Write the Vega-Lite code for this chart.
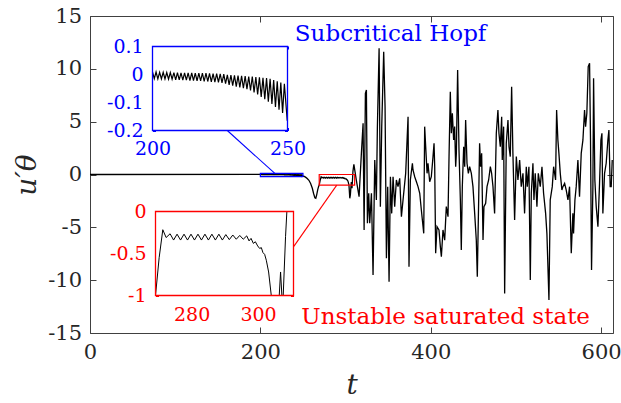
{
  "$schema": "https://vega.github.io/schema/vega-lite/v6.json",
  "width": 523,
  "height": 317,
  "autosize": {"type": "none"},
  "padding": {"left": 90, "top": 16, "right": 8, "bottom": 70},
  "background": "white",
  "config": {
    "font": "DejaVu Serif",
    "view": {"stroke": null},
    "axis": {"grid": false, "labelFont": "DejaVu Serif", "titleFont": "DejaVu Serif", "labelFlush": false, "labelOverlap": false}
  },
  "datasets": {
    "series": [
      {"t": 0, "u": 0},
      {"t": 200.00, "u": 0.009}, {"t": 200.66, "u": -0.015}, {"t": 201.32, "u": 0.009}, {"t": 201.98, "u": -0.016},
      {"t": 202.64, "u": 0.008}, {"t": 203.30, "u": -0.016}, {"t": 203.96, "u": 0.008}, {"t": 204.62, "u": -0.016},
      {"t": 205.28, "u": 0.007}, {"t": 205.94, "u": -0.017}, {"t": 206.60, "u": 0.007}, {"t": 207.26, "u": -0.017},
      {"t": 207.92, "u": 0.007}, {"t": 208.58, "u": -0.019}, {"t": 209.24, "u": 0.007}, {"t": 209.90, "u": -0.019},
      {"t": 210.56, "u": 0.006}, {"t": 211.22, "u": -0.020}, {"t": 211.88, "u": 0.006}, {"t": 212.54, "u": -0.020},
      {"t": 213.20, "u": 0.006}, {"t": 213.86, "u": -0.022}, {"t": 214.52, "u": 0.006}, {"t": 215.18, "u": -0.022},
      {"t": 215.84, "u": 0.005}, {"t": 216.50, "u": -0.023}, {"t": 217.16, "u": 0.005}, {"t": 217.82, "u": -0.023},
      {"t": 218.48, "u": 0.005}, {"t": 219.14, "u": -0.025}, {"t": 219.80, "u": 0.005}, {"t": 220.46, "u": -0.025},
      {"t": 221.12, "u": 0.004}, {"t": 221.78, "u": -0.026}, {"t": 222.44, "u": 0.003}, {"t": 223.10, "u": -0.027},
      {"t": 223.76, "u": 0.003}, {"t": 224.42, "u": -0.028}, {"t": 225.08, "u": 0.002}, {"t": 225.74, "u": -0.030},
      {"t": 226.40, "u": 0.001}, {"t": 227.06, "u": -0.033}, {"t": 227.72, "u": -0.001}, {"t": 228.38, "u": -0.037},
      {"t": 229.04, "u": -0.002}, {"t": 229.70, "u": -0.040}, {"t": 230.36, "u": -0.003}, {"t": 231.02, "u": -0.043},
      {"t": 231.68, "u": -0.004}, {"t": 232.34, "u": -0.046}, {"t": 233.00, "u": -0.005}, {"t": 233.66, "u": -0.049},
      {"t": 234.32, "u": -0.006}, {"t": 234.98, "u": -0.052}, {"t": 235.64, "u": -0.007}, {"t": 236.30, "u": -0.057},
      {"t": 236.96, "u": -0.007}, {"t": 237.62, "u": -0.064}, {"t": 238.28, "u": -0.009}, {"t": 238.94, "u": -0.071},
      {"t": 239.60, "u": -0.010}, {"t": 240.26, "u": -0.080}, {"t": 240.92, "u": -0.012}, {"t": 241.58, "u": -0.088},
      {"t": 242.24, "u": -0.013}, {"t": 242.90, "u": -0.097}, {"t": 243.56, "u": -0.015}, {"t": 244.22, "u": -0.105},
      {"t": 244.88, "u": -0.020}, {"t": 245.54, "u": -0.116}, {"t": 246.20, "u": -0.024}, {"t": 246.86, "u": -0.126},
      {"t": 247.52, "u": -0.029}, {"t": 248.18, "u": -0.137}, {"t": 248.84, "u": -0.033}, {"t": 249.90, "u": -0.165},
      {"t": 251.0, "u": -0.15}, {"t": 253.0, "u": -0.25}, {"t": 255.0, "u": -0.38}, {"t": 257.0, "u": -0.55},
      {"t": 259.0, "u": -0.85}, {"t": 261.0, "u": -1.3}, {"t": 262.5, "u": -1.8}, {"t": 264.0, "u": -2.2},
      {"t": 265.1, "u": -2.25}, {"t": 266.2, "u": -1.9}, {"t": 267.3, "u": -1.45}, {"t": 268.3, "u": -1.15},
      {"t": 269.1, "u": -1.0}, {"t": 270.2, "u": -0.55}, {"t": 271.3, "u": -0.217}, {"t": 272.3, "u": -0.31},
      {"t": 273.5, "u": -0.265}, {"t": 274.55, "u": -0.34}, {"t": 275.6, "u": -0.27}, {"t": 276.65, "u": -0.34},
      {"t": 277.7, "u": -0.27}, {"t": 278.75, "u": -0.34}, {"t": 279.8, "u": -0.27}, {"t": 280.85, "u": -0.34},
      {"t": 281.9, "u": -0.27}, {"t": 282.95, "u": -0.34}, {"t": 284.0, "u": -0.27}, {"t": 285.05, "u": -0.34},
      {"t": 286.1, "u": -0.27}, {"t": 287.15, "u": -0.34}, {"t": 288.2, "u": -0.27}, {"t": 289.25, "u": -0.34},
      {"t": 290.3, "u": -0.275}, {"t": 291.35, "u": -0.335}, {"t": 292.4, "u": -0.28}, {"t": 293.45, "u": -0.33},
      {"t": 294.5, "u": -0.285}, {"t": 295.55, "u": -0.33}, {"t": 296.6, "u": -0.29}, {"t": 297.3, "u": -0.35},
      {"t": 297.9, "u": -0.32}, {"t": 298.6, "u": -0.38}, {"t": 299.2, "u": -0.36}, {"t": 299.9, "u": -0.41},
      {"t": 300.5, "u": -0.44}, {"t": 301.0, "u": -0.43}, {"t": 301.5, "u": -0.49}, {"t": 302.0, "u": -0.51},
      {"t": 302.5, "u": -0.58}, {"t": 303.2, "u": -0.72}, {"t": 304.0, "u": -1.0}, {"t": 304.5, "u": -1.6},
      {"t": 305.0, "u": -2.25}, {"t": 305.7, "u": -1.9}, {"t": 306.4, "u": -1.1}, {"t": 306.8, "u": -0.72},
      {"t": 307.2, "u": -1.1}, {"t": 307.6, "u": -1.3}, {"t": 308.3, "u": -0.3}, {"t": 308.7, "u": 0.3},
      {"t": 309.8, "u": 0.95}, {"t": 312.8, "u": -0.6},
      {"t": 315.9, "u": -2.1}, {"t": 318.6, "u": 2.0}, {"t": 320.6, "u": 4.84}, {"t": 321.8, "u": -5.25},
      {"t": 323.3, "u": 7.68}, {"t": 324.5, "u": 8.0}, {"t": 325.7, "u": -4.62}, {"t": 327.2, "u": -1.78},
      {"t": 328.4, "u": -4.62}, {"t": 330.4, "u": -1.78}, {"t": 332.3, "u": -9.51}, {"t": 334.3, "u": 1.37},
      {"t": 336.2, "u": -2.41}, {"t": 337.4, "u": 4.53}, {"t": 339.4, "u": 11.94}, {"t": 340.9, "u": -3.04},
      {"t": 342.5, "u": 4.53}, {"t": 344.8, "u": 11.62}, {"t": 346.4, "u": 6.42}, {"t": 348.0, "u": -7.93},
      {"t": 349.5, "u": -1.15}, {"t": 351.1, "u": -10.14}, {"t": 352.7, "u": -0.21}, {"t": 354.2, "u": -3.68},
      {"t": 355.8, "u": -0.21}, {"t": 357.7, "u": -3.04}, {"t": 359.7, "u": -0.52}, {"t": 361.6, "u": -1.15},
      {"t": 363.6, "u": -0.36}, {"t": 365.6, "u": -3.99}, {"t": 367.5, "u": -2.41}, {"t": 370.6, "u": 0.11},
      {"t": 373.4, "u": 5.47}, {"t": 374.5, "u": -8.72}, {"t": 376.1, "u": -0.52}, {"t": 378.5, "u": 1.06},
      {"t": 379.2, "u": 0.43}, {"t": 381.2, "u": -0.21}, {"t": 383.2, "u": -0.68}, {"t": 385.1, "u": -1.15},
      {"t": 387.1, "u": -1.78}, {"t": 389.0, "u": -3.36}, {"t": 391.0, "u": -4.94}, {"t": 391.8, "u": -5.57},
      {"t": 392.9, "u": 4.53}, {"t": 394.1, "u": 2.63}, {"t": 395.7, "u": 0.11}, {"t": 396.8, "u": 1.06},
      {"t": 398.8, "u": -0.68}, {"t": 400.7, "u": -0.21}, {"t": 402.7, "u": 1.69}, {"t": 403.9, "u": 2.95},
      {"t": 404.7, "u": 0.74}, {"t": 405.8, "u": -7.46}, {"t": 407.4, "u": -4.94}, {"t": 409.7, "u": -5.25},
      {"t": 411.3, "u": -6.83}, {"t": 412.5, "u": -7.78}, {"t": 414.4, "u": -5.25}, {"t": 416.4, "u": -6.21},
      {"t": 418.3, "u": -3.04}, {"t": 420.3, "u": -3.99}, {"t": 421.5, "u": 1.69}, {"t": 423.0, "u": 7.84},
      {"t": 424.2, "u": 3.90}, {"t": 425.4, "u": 5.79}, {"t": 426.9, "u": 3.27}, {"t": 428.1, "u": 4.53},
      {"t": 429.3, "u": 0.74}, {"t": 430.1, "u": 2.0}, {"t": 431.6, "u": 9.89}, {"t": 433.2, "u": 2.32},
      {"t": 434.8, "u": -2.41}, {"t": 435.9, "u": -7.15}, {"t": 437.1, "u": -1.15}, {"t": 438.7, "u": 2.63},
      {"t": 439.9, "u": 0.74}, {"t": 441.0, "u": 5.16}, {"t": 442.6, "u": 1.06}, {"t": 444.2, "u": 0.11},
      {"t": 445.7, "u": 0.74}, {"t": 447.7, "u": 0.11}, {"t": 449.6, "u": -1.15}, {"t": 451.6, "u": -3.68},
      {"t": 453.5, "u": -6.20}, {"t": 454.7, "u": -9.68}, {"t": 456.3, "u": -2.41}, {"t": 457.4, "u": 2.95},
      {"t": 458.6, "u": 0.74}, {"t": 459.8, "u": 2.0}, {"t": 461.4, "u": -6.20}, {"t": 462.5, "u": -3.04},
      {"t": 464.5, "u": -2.73}, {"t": 466.1, "u": -1.15}, {"t": 468.0, "u": -0.52}, {"t": 470.0, "u": 0.74},
      {"t": 471.5, "u": 0.11}, {"t": 473.1, "u": -1.15}, {"t": 475.0, "u": -3.68}, {"t": 477.0, "u": 3.90},
      {"t": 478.9, "u": 6.10}, {"t": 480.1, "u": 3.90}, {"t": 481.7, "u": 2.63}, {"t": 483.3, "u": 5.47},
      {"t": 484.0, "u": 1.37}, {"t": 485.6, "u": 4.53}, {"t": 486.8, "u": -11.25}, {"t": 488.7, "u": 2.95},
      {"t": 490.7, "u": 5.16}, {"t": 491.9, "u": 2.63}, {"t": 493.4, "u": 1.69}, {"t": 495.0, "u": 8.31},
      {"t": 496.5, "u": 2.0}, {"t": 498.5, "u": -4.31}, {"t": 500.5, "u": 1.69}, {"t": 502.4, "u": -0.52},
      {"t": 504.4, "u": 1.37}, {"t": 506.3, "u": -1.15}, {"t": 508.3, "u": 0.11}, {"t": 510.2, "u": -3.68},
      {"t": 512.2, "u": 0.74}, {"t": 513.4, "u": -1.15}, {"t": 515.3, "u": 0.74}, {"t": 516.9, "u": -9.99},
      {"t": 518.1, "u": -1.78}, {"t": 520.0, "u": 1.06}, {"t": 521.2, "u": -2.41}, {"t": 522.7, "u": 0.11},
      {"t": 524.7, "u": -3.04}, {"t": 526.3, "u": 0.11}, {"t": 528.6, "u": -1.15}, {"t": 530.6, "u": 0.74},
      {"t": 532.5, "u": -1.78}, {"t": 534.9, "u": -3.68}, {"t": 536.4, "u": -5.57}, {"t": 538.8, "u": -11.88},
      {"t": 540.3, "u": -2.41}, {"t": 542.7, "u": -1.15}, {"t": 544.3, "u": 0.74}, {"t": 546.6, "u": -0.52},
      {"t": 547.8, "u": 6.10}, {"t": 549.3, "u": 3.27}, {"t": 550.5, "u": 2.0}, {"t": 552.1, "u": 0.11},
      {"t": 554.0, "u": -1.47}, {"t": 555.2, "u": -1.15}, {"t": 557.2, "u": -0.84}, {"t": 559.1, "u": -1.47},
      {"t": 561.1, "u": -2.41}, {"t": 563.0, "u": -1.15}, {"t": 565.0, "u": -7.46}, {"t": 566.9, "u": -3.68},
      {"t": 567.7, "u": -5.57}, {"t": 569.3, "u": -2.41}, {"t": 570.8, "u": -1.15}, {"t": 572.8, "u": 1.37},
      {"t": 574.7, "u": -2.10}, {"t": 576.7, "u": 2.0}, {"t": 578.7, "u": 3.27}, {"t": 580.6, "u": 6.10},
      {"t": 581.8, "u": 4.53}, {"t": 583.3, "u": 5.79}, {"t": 584.9, "u": 10.21}, {"t": 586.5, "u": 10.52},
      {"t": 587.6, "u": 3.27}, {"t": 588.8, "u": -9.04}, {"t": 590.4, "u": -1.15}, {"t": 591.2, "u": 9.10},
      {"t": 592.7, "u": -0.52}, {"t": 594.3, "u": -3.04}, {"t": 596.3, "u": -4.94}, {"t": 598.2, "u": -0.84},
      {"t": 599.8, "u": 3.27}, {"t": 601.0, "u": 3.90}, {"t": 602.1, "u": -3.68}, {"t": 604.1, "u": 0.11},
      {"t": 606.0, "u": 1.06}, {"t": 608.0, "u": 3.27}, {"t": 609.2, "u": 4.21}, {"t": 610.7, "u": -1.15},
      {"t": 611.9, "u": -1.15}, {"t": 613.1, "u": 1.37}
    ],
    "boxes": [
      {"inset": "hopf", "t0": 200, "t1": 250, "u0": -0.2, "u1": 0.1},
      {"inset": "sat", "t0": 269.1, "t1": 310.7, "u0": -1, "u1": 0}
    ],
    "links": [
      {"inset": "hopf", "t0": 161.5, "u0": 4.14, "t1": 217, "u1": 0.1},
      {"inset": "sat", "t0": 239.3, "u0": -6.8, "t1": 289.7, "u1": -1}
    ],
    "notes": [
      {"inset": "hopf", "label": "Subcritical Hopf", "t": 240.5, "u": 12.6},
      {"inset": "sat", "label": "Unstable saturated state", "t": 248, "u": -14.14}
    ]
  },
  "layer": [
    {
      "layer": [
        {
          "data": {"name": "series"},
          "mark": {"type": "line", "color": "black", "strokeWidth": 1.3},
          "encoding": {
            "x": {"field": "t", "type": "quantitative", "scale": {"domain": [0, 614], "nice": false, "zero": false},
              "axis": {"orient": "bottom", "values": [0, 200, 400, 600], "tickSize": -6, "labelPadding": 14, "labelFontSize": 21, "labelColor": "#262626", "domainColor": "#404040", "tickColor": "#404040", "title": "t", "titleFontSize": 28, "titleFontStyle": "italic", "titleFontWeight": "normal", "titleColor": "#262626", "titlePadding": 9}},
            "y": {"field": "u", "type": "quantitative", "scale": {"domain": [-15, 15], "nice": false, "zero": false},
              "axis": {"orient": "left", "values": [-15, -10, -5, 0, 5, 10, 15], "tickSize": -6, "labelPadding": 14.5, "labelFontSize": 21, "labelColor": "#262626", "domainColor": "#404040", "tickColor": "#404040", "labelExpr": "replace(datum.label, '−', '-')", "title": "u′θ", "titleFontSize": 28, "titleFontStyle": "italic", "titleFontWeight": "normal", "titleColor": "#262626", "titlePadding": 6}}
          }
        },
        {
          "data": {"name": "boxes"},
          "transform": [{"filter": "datum.inset == 'hopf'"}],
          "mark": {"type": "rect", "filled": false, "stroke": "#0000FF", "strokeWidth": 1.2},
          "encoding": {
            "x": {"field": "t0", "type": "quantitative", "scale": {"domain": [0, 614], "nice": false, "zero": false},
              "axis": {"orient": "top", "values": [0, 200, 400, 600], "tickSize": -6, "labels": false, "domainColor": "#404040", "tickColor": "#404040", "title": null}},
            "x2": {"field": "t1"},
            "y": {"field": "u0", "type": "quantitative", "scale": {"domain": [-15, 15], "nice": false, "zero": false},
              "axis": {"orient": "right", "values": [-15, -10, -5, 0, 5, 10, 15], "tickSize": -6, "labels": false, "domainColor": "#404040", "tickColor": "#404040", "title": null}},
            "y2": {"field": "u1"}
          }
        },
        {
          "data": {"name": "boxes"},
          "transform": [{"filter": "datum.inset == 'sat'"}],
          "mark": {"type": "rect", "filled": false, "stroke": "#FF0000", "strokeWidth": 1.2},
          "encoding": {
            "x": {"field": "t0", "type": "quantitative", "scale": {"domain": [0, 614], "nice": false, "zero": false}, "axis": null},
            "x2": {"field": "t1"},
            "y": {"field": "u0", "type": "quantitative", "scale": {"domain": [-15, 15], "nice": false, "zero": false}, "axis": null},
            "y2": {"field": "u1"}
          }
        },
        {
          "data": {"name": "links"},
          "transform": [{"filter": "datum.inset == 'hopf'"}],
          "mark": {"type": "rule", "color": "#0000FF", "strokeWidth": 1.1},
          "encoding": {
            "x": {"field": "t0", "type": "quantitative", "scale": {"domain": [0, 614], "nice": false, "zero": false}, "axis": null},
            "x2": {"field": "t1"},
            "y": {"field": "u0", "type": "quantitative", "scale": {"domain": [-15, 15], "nice": false, "zero": false}, "axis": null},
            "y2": {"field": "u1"}
          }
        },
        {
          "data": {"name": "links"},
          "transform": [{"filter": "datum.inset == 'sat'"}],
          "mark": {"type": "rule", "color": "#FF0000", "strokeWidth": 1.1},
          "encoding": {
            "x": {"field": "t0", "type": "quantitative", "scale": {"domain": [0, 614], "nice": false, "zero": false}, "axis": null},
            "x2": {"field": "t1"},
            "y": {"field": "u0", "type": "quantitative", "scale": {"domain": [-15, 15], "nice": false, "zero": false}, "axis": null},
            "y2": {"field": "u1"}
          }
        },
        {
          "data": {"name": "notes"},
          "transform": [{"filter": "datum.inset == 'hopf'"}],
          "mark": {"type": "text", "color": "#0000FF", "fontSize": 23, "align": "left", "baseline": "alphabetic", "font": "DejaVu Serif"},
          "encoding": {
            "x": {"field": "t", "type": "quantitative", "scale": {"domain": [0, 614], "nice": false, "zero": false}, "axis": null},
            "y": {"field": "u", "type": "quantitative", "scale": {"domain": [-15, 15], "nice": false, "zero": false}, "axis": null},
            "text": {"field": "label"}
          }
        },
        {
          "data": {"name": "notes"},
          "transform": [{"filter": "datum.inset == 'sat'"}],
          "mark": {"type": "text", "color": "#FF0000", "fontSize": 23, "align": "left", "baseline": "alphabetic", "font": "DejaVu Serif"},
          "encoding": {
            "x": {"field": "t", "type": "quantitative", "scale": {"domain": [0, 614], "nice": false, "zero": false}, "axis": null},
            "y": {"field": "u", "type": "quantitative", "scale": {"domain": [-15, 15], "nice": false, "zero": false}, "axis": null},
            "text": {"field": "label"}
          }
        }
      ],
      "resolve": {"axis": {"x": "independent", "y": "independent"}}
    },
    {
      "layer": [
        {
          "data": {"name": "boxes"},
          "transform": [{"filter": "datum.inset == 'hopf'"}],
          "mark": {"type": "rect", "fill": "white", "strokeWidth": 0},
          "encoding": {
            "x": {"field": "t0", "type": "quantitative", "scale": {"domain": [200, 250], "range": [62.5, 197.5], "nice": false, "zero": false},
              "axis": {"orient": "top", "offset": -30, "values": [200, 250], "labels": false, "domain": false, "tickSize": -3, "tickColor": "#0000FF", "title": null}},
            "x2": {"field": "t1"},
            "y": {"field": "u0", "type": "quantitative", "scale": {"domain": [-0.2, 0.1], "range": [114.5, 30.5], "nice": false, "zero": false},
              "axis": {"orient": "right", "offset": -325.5, "values": [-0.2, -0.1, 0, 0.1], "labels": false, "domain": false, "tickSize": -3, "tickColor": "#0000FF", "title": null}},
            "y2": {"field": "u1"}
          }
        },
        {
          "data": {"name": "series"},
          "transform": [{"filter": "datum.t >= 199.99 && datum.t <= 250.01"}],
          "mark": {"type": "line", "color": "black", "strokeWidth": 1.2},
          "encoding": {
            "x": {"field": "t", "type": "quantitative", "scale": {"domain": [200, 250], "range": [62.5, 197.5], "nice": false, "zero": false},
              "axis": {"orient": "bottom", "offset": -202.5, "values": [200, 250], "domain": false, "tickSize": -3, "tickColor": "#0000FF", "labelPadding": 12.4, "labelFontSize": 19, "labelColor": "#0000FF", "title": null}},
            "y": {"field": "u", "type": "quantitative", "scale": {"domain": [-0.2, 0.1], "range": [114.5, 30.5], "nice": false, "zero": false},
              "axis": {"orient": "left", "offset": -62.5, "values": [-0.2, -0.1, 0, 0.1], "domain": false, "tickSize": -3, "tickColor": "#0000FF", "labelPadding": 12.4, "labelFontSize": 19, "labelColor": "#0000FF", "labelExpr": "replace(format(datum.value, '.1~f'), '−', '-')", "title": null}}
          }
        },
        {
          "data": {"name": "boxes"},
          "transform": [{"filter": "datum.inset == 'hopf'"}],
          "mark": {"type": "rect", "filled": false, "stroke": "#0000FF", "strokeWidth": 1.3},
          "encoding": {
            "x": {"field": "t0", "type": "quantitative", "scale": {"domain": [200, 250], "range": [62.5, 197.5], "nice": false, "zero": false}, "axis": null},
            "x2": {"field": "t1"},
            "y": {"field": "u0", "type": "quantitative", "scale": {"domain": [-0.2, 0.1], "range": [114.5, 30.5], "nice": false, "zero": false}, "axis": null},
            "y2": {"field": "u1"}
          }
        }
      ],
      "resolve": {"axis": {"x": "independent", "y": "independent"}}
    },
    {
      "layer": [
        {
          "data": {"name": "boxes"},
          "transform": [{"filter": "datum.inset == 'sat'"}],
          "mark": {"type": "rect", "fill": "white", "strokeWidth": 0},
          "encoding": {
            "x": {"field": "t0", "type": "quantitative", "scale": {"domain": [269.1, 310.7], "range": [65.5, 203.5], "nice": false, "zero": false},
              "axis": {"orient": "top", "offset": -195.5, "values": [280, 300], "labels": false, "domain": false, "tickSize": -3, "tickColor": "#FF0000", "title": null}},
            "x2": {"field": "t1"},
            "y": {"field": "u0", "type": "quantitative", "scale": {"domain": [-1, 0], "range": [279.5, 195.5], "nice": false, "zero": false, "clamp": true},
              "axis": {"orient": "right", "offset": -319.5, "values": [-1, -0.5, 0], "labels": false, "domain": false, "tickSize": -3, "tickColor": "#FF0000", "title": null}},
            "y2": {"field": "u1"}
          }
        },
        {
          "data": {"name": "series"},
          "transform": [{"filter": "datum.t >= 269.05 && datum.t <= 310.7"}],
          "mark": {"type": "line", "color": "black", "strokeWidth": 1.0},
          "encoding": {
            "x": {"field": "t", "type": "quantitative", "scale": {"domain": [269.1, 310.7], "range": [65.5, 203.5], "nice": false, "zero": false},
              "axis": {"orient": "bottom", "offset": -37.5, "values": [280, 300], "domain": false, "tickSize": -3, "tickColor": "#FF0000", "labelPadding": 13, "labelFontSize": 19, "labelColor": "#FF0000", "title": null}},
            "y": {"field": "u", "type": "quantitative", "scale": {"domain": [-1, 0], "range": [279.5, 195.5], "nice": false, "zero": false, "clamp": true},
              "axis": {"orient": "left", "offset": -65.5, "values": [-1, -0.5, 0], "domain": false, "tickSize": -3, "tickColor": "#FF0000", "labelPadding": 12.4, "labelFontSize": 19, "labelColor": "#FF0000", "labelExpr": "replace(format(datum.value, '.1~f'), '−', '-')", "title": null}}
          }
        },
        {
          "data": {"name": "boxes"},
          "transform": [{"filter": "datum.inset == 'sat'"}],
          "mark": {"type": "rect", "filled": false, "stroke": "#FF0000", "strokeWidth": 1.3},
          "encoding": {
            "x": {"field": "t0", "type": "quantitative", "scale": {"domain": [269.1, 310.7], "range": [65.5, 203.5], "nice": false, "zero": false}, "axis": null},
            "x2": {"field": "t1"},
            "y": {"field": "u0", "type": "quantitative", "scale": {"domain": [-1, 0], "range": [279.5, 195.5], "nice": false, "zero": false, "clamp": true}, "axis": null},
            "y2": {"field": "u1"}
          }
        }
      ],
      "resolve": {"axis": {"x": "independent", "y": "independent"}}
    }
  ],
  "resolve": {"scale": {"x": "independent", "y": "independent"}, "axis": {"x": "independent", "y": "independent"}}
}
